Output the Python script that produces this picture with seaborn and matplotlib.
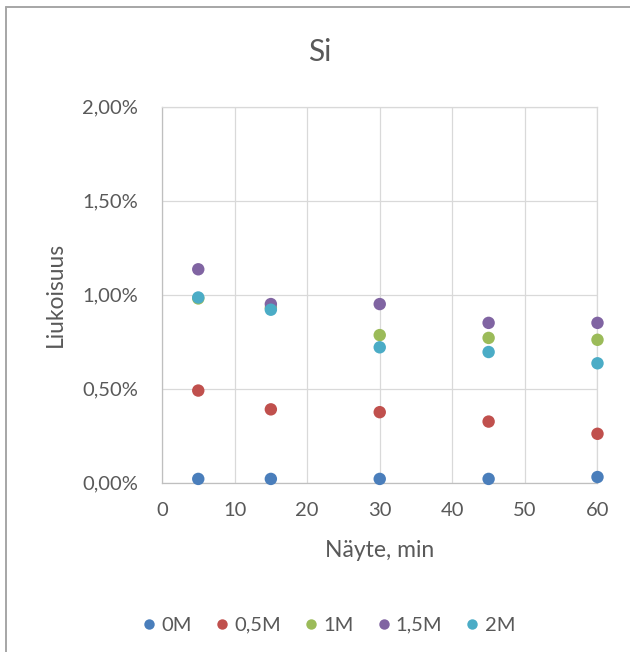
import matplotlib
matplotlib.use("Agg")
import matplotlib.pyplot as plt
from matplotlib.lines import Line2D
from matplotlib.ticker import FuncFormatter
import pandas as pd
import seaborn as sns

# Sampling times (min) and Si dissolution (%) per acid concentration
minutes = [5, 15, 30, 45, 60]
concentrations = ["0M", "0,5M", "1M", "1,5M", "2M"]
si_0M = [0.02, 0.02, 0.02, 0.02, 0.03]
si_05M = [0.49, 0.39, 0.375, 0.325, 0.26]
si_1M = [0.98, 0.93, 0.785, 0.77, 0.76]
si_15M = [1.135, 0.95, 0.95, 0.85, 0.85]
si_2M = [0.985, 0.92, 0.72, 0.695, 0.635]
x_ticks = [0, 10, 20, 30, 40, 50, 60]
y_ticks = [0.0, 0.5, 1.0, 1.5, 2.0]

series = [si_0M, si_05M, si_1M, si_15M, si_2M]
df = pd.DataFrame(
    [(m, v, c) for c, vals in zip(concentrations, series) for m, v in zip(minutes, vals)],
    columns=["min", "si", "conc"],
)

colors = ["#4A7EBB", "#C0504D", "#9BBB59", "#8064A2", "#4BACC6"]
palette = dict(zip(concentrations, colors))

sns.set_theme(style="white")
plt.rcParams["font.family"] = ["Lato", "DejaVu Sans"]
text_col = "#595959"

fig = plt.figure(figsize=(6.3, 6.52), dpi=100)
ax = fig.add_axes([0.2571, 0.2597, 0.6913, 0.5767])

sns.scatterplot(
    data=df, x="min", y="si", hue="conc", hue_order=concentrations,
    palette=palette, s=80, linewidth=0, edgecolor="none", legend=False, ax=ax,
    zorder=3,
)
for coll in ax.collections:
    coll.set_clip_on(False)

ax.set_xlim(0, 60)
ax.set_ylim(0, 2.0)
ax.set_xticks(x_ticks)
ax.set_yticks(y_ticks)
ax.yaxis.set_major_formatter(FuncFormatter(lambda v, _: f"{v:.2f}%".replace(".", ",")))
ax.grid(True, color="#D9D9D9", linewidth=0.9)
ax.set_axisbelow(True)
for side, sp in ax.spines.items():
    sp.set_color("#D9D9D9")
    sp.set_linewidth(0.9)
ax.spines["left"].set_color("#BFBFBF")
ax.spines["bottom"].set_color("#BFBFBF")
ax.tick_params(axis="both", length=0, labelsize=14.5, colors=text_col)
ax.tick_params(axis="y", pad=17)
ax.tick_params(axis="x", pad=14)

ax.set_xlabel("Näyte, min", fontsize=16.5, color=text_col, labelpad=15)
ax.set_ylabel("Liukoisuus", fontsize=16.5, color=text_col, labelpad=12)
fig.text(0.508, 0.921, "Si", ha="center", va="center", fontsize=21.5, color=text_col)

handles = [
    Line2D([], [], marker="o", linestyle="none", markersize=7.5,
           markerfacecolor=c, markeredgewidth=0, label=lab)
    for lab, c in zip(concentrations, colors)
]
fig.legend(handles=handles, loc="center", bbox_to_anchor=(0.519, 0.041), ncol=5,
           frameon=False, fontsize=14.5, handletextpad=0.1, columnspacing=1.0,
           handlelength=1.0, labelcolor=text_col)

# chart area outline (top and left edges)
fig.add_artist(Line2D([6 / 630, 1.0], [1 - 7 / 652, 1 - 7 / 652],
                      transform=fig.transFigure, color="#A6A6A6", linewidth=1.4))
fig.add_artist(Line2D([6 / 630, 6 / 630], [0.0, 1 - 7 / 652],
                      transform=fig.transFigure, color="#A6A6A6", linewidth=1.4))

fig.savefig("out.png", dpi=100, facecolor="white")
